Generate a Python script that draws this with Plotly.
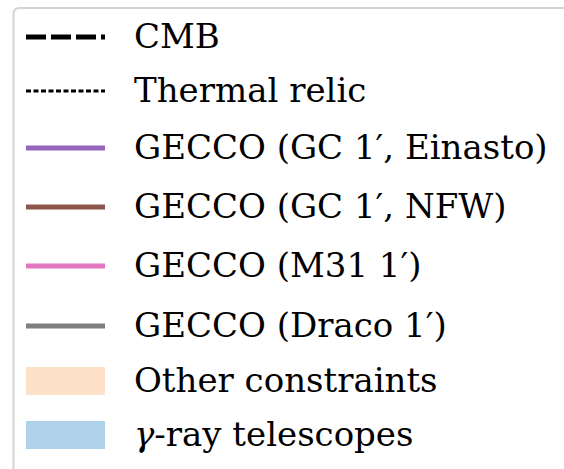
import plotly.graph_objects as go

# Legend entries
line_labels = ["CMB", "Thermal relic", "GECCO (GC 1′, Einasto)", "GECCO (GC 1′, NFW)",
               "GECCO (M31 1′)", "GECCO (Draco 1′)"]
line_colors = ["#000000", "#000000", "#9467bd", "#8c564b", "#e377c2", "#7f7f7f"]
line_dashes = ["20px,5px", "5px,2.5px", "solid", "solid", "solid", "solid"]
line_widths = [5, 3, 5, 5, 5, 5]

patch_labels = ["Other constraints", "<i>γ</i>-ray telescopes"]
patch_colors = ["rgba(253,205,165,0.6)", "rgba(120,180,218,0.6)"]

# Layout (pixel units of the canvas)
W, H = 564, 469
row_y = [37, 91, 148, 207, 266, 326, 381, 435]
handle_x0, handle_x1 = 26, 105
text_x = 132
patch_half = 14
FONT = dict(family="DejaVu Serif", size=34, color="#000000")

fig = go.Figure()

shapes = []
# legend frame with rounded corner, running off the canvas to the right and bottom
r = 6
x0, y0 = 13.5, 8
shapes.append(dict(
    type="path", xref="x", yref="y",
    path=f"M {x0},{H+20} L {x0},{y0+r} Q {x0},{y0} {x0+r},{y0} L {W+20},{y0}",
    line=dict(color="#d4d4d4", width=2), fillcolor="rgba(0,0,0,0)", layer="below"))

for i, (lab, c, d, w) in enumerate(zip(line_labels, line_colors, line_dashes, line_widths)):
    fig.add_trace(go.Scatter(
        x=[handle_x0, handle_x1], y=[row_y[i], row_y[i]], mode="lines",
        line=dict(color=c, dash=d, width=w), hoverinfo="skip", showlegend=False))

annotations = []
for i, lab in enumerate(line_labels + patch_labels):
    annotations.append(dict(
        x=text_x, y=row_y[i] - 1, xref="x", yref="y", text=lab, showarrow=False,
        xanchor="left", yanchor="middle", font=FONT))

for j, (lab, c) in enumerate(zip(patch_labels, patch_colors)):
    yc = row_y[len(line_labels) + j]
    fig.add_trace(go.Scatter(
        x=[handle_x0, handle_x1, handle_x1, handle_x0, handle_x0],
        y=[yc - patch_half, yc - patch_half, yc + patch_half, yc + patch_half, yc - patch_half],
        mode="lines", fill="toself", fillcolor=c, line=dict(width=0),
        hoverinfo="skip", showlegend=False))

fig.update_layout(
    width=W, height=H, margin=dict(l=0, r=0, t=0, b=0),
    paper_bgcolor="white", plot_bgcolor="white",
    xaxis=dict(range=[0, W], visible=False, fixedrange=True),
    yaxis=dict(range=[H, 0], visible=False, fixedrange=True),
    shapes=shapes, annotations=annotations, showlegend=False)

fig.write_html("out.html")
